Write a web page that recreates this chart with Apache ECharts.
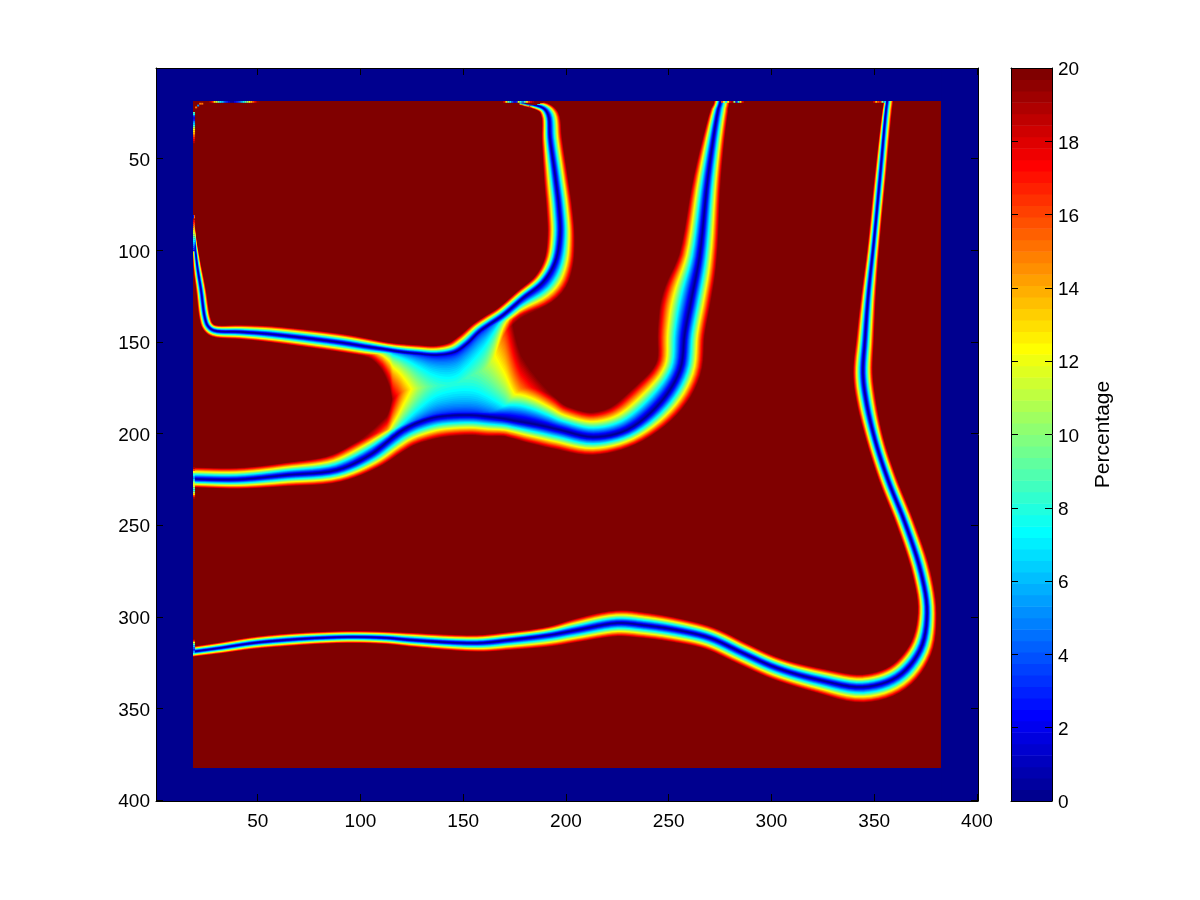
<!DOCTYPE html>
<html><head><meta charset="utf-8"><style>html,body{margin:0;background:#fff}#c{width:1200px;height:900px}</style>
<script src="https://cdn.jsdelivr.net/npm/echarts@6/dist/echarts.min.js"></script></head>
<body><div id="c"></div><script>
// channel centre lines, with the distance to the 20% edge on each side
// "Near" = slope close to the core where the channel opens into the wide junction
const northX=[18.5,19,20.5,22.4,24.3,25.8,28.7,41.4,56,88.6,104.6,111,114.4,115.8,120.7,127.5,137.2,146,151.8,158.2,163,169.4,179.1,188.8,194.7,197.1,196.6,194.7,192.2,191.3,188.8,177.6];
const northY=[80.7,91.6,108,121.6,136.9,141.3,143.7,144.5,145.7,150,152.8,153.8,154.4,154.7,155.5,156.3,157.1,155.5,151.1,144,140.2,135.3,126,117.3,106.4,91.6,76.9,58.9,38.7,26.1,22.3,19.1];
const northOuter=[.7,.7,2,2.4,2.7,3,3.5,4,4.4,5.4,5,12,22,30,42,80,150,170,150,150,100,10,10,12,9,7,6.5,6,6,5.5,3.5,1];
const northOuterNear=[.7,.7,2,2.4,2.7,3,3.5,4,4.4,5.4,5,4.6,4.6,4.6,5,5,5.5,6,7,9,8,7,9,12,9,7,6.5,6,6,5.5,3.5,1];
const northInner=[.7,.7,2,2.4,2.7,2.7,3,3.7,4.4,4.9,4.4,3.8,4,4,4.4,4.6,5,6,6,5,5,4.5,4.5,5,5.5,6.3,6.3,5.8,3.8,3.5,3,1];

const middleX=[17,39.9,64.2,88.6,104.6,112.9,115.8,120.7,127.5,137.2,153.3,163,170.3,175.2,181,189,197.1,213.2,229.7,245.8,255.5,257.9,261.3,265,269.1,274,275,275.9];
const middleY=[224.8,225.1,222.6,219.9,211.7,204.6,201.9,198,194.2,190.9,189.9,190.9,192,193.1,194.2,195.9,198,201.9,198,183.3,165.3,145.1,125.5,103.6,60,23.4,19.6,12.5];
const middleOuter=[4.4,4.9,6.4,6.5,8,9,9.5,10,11,11.8,11,11,9.5,9.5,10.5,11,11,10,8.5,11,10.5,9.7,9.7,8.8,6.3,4.9,4.5,4.5];
const middleInner=[6.5,6.4,6.4,9,10,14,22,42,80,150,180,128,80,45,30,18,12.5,13.6,15,16,11.5,13.6,15.5,9.7,7.3,3,3,3];
const middleInnerNear=[6.5,6.4,6.4,9,10,9,9,8,8,8,9,12,20,24,24,18,12.5,13.6,15,16,11.5,13.6,15.5,9.7,7.3,3,3,3];

const southX=[17,31.6,47.7,64.2,80.3,96.4,112.9,124.1,156.7,172.8,192.2,205.4,224.8,237.5,254,270.1,286.1,302.7,323.6,344.5,361.1,372.3,375.7,372.8,365,356.7,350.4,346,344.5,345.5,347,349.9,352.8,355.7,357];
const southY=[319.2,317,314.3,312.6,311.5,311,311.5,312.6,314.3,312.6,309.9,307.2,303.4,304.5,307.2,311.5,319.7,327.9,334.5,338.3,332.8,318.1,297.9,276.1,248.8,225.3,203.5,181.7,166.9,148.9,125.5,94.4,60,23.4,12.5];
const southOuter=[2.7,3,3.3,3.5,3.3,3.3,3.5,3.5,4.9,5.5,6.5,6.5,7.6,7.1,7,6.5,6.5,6.5,7,9,8,6,4.4,4.9,4.4,4.4,4.2,4.9,4.9,4.4,3.9,2.7,2.9,3,3];
const southInner=[2.7,3,3.3,3.5,3.3,3.3,3.3,4,4.4,4.4,4.4,6.5,7.1,7.1,6.5,6,5.5,5.5,6.5,7,7,6,4.4,4.4,4.4,4.4,4.2,4.9,4.9,4.4,3.4,2.7,2.9,1.5,1.5];

// single cells along the boundary of the field: [x, y, percent]
const topCells=[[27,19,19],[28,19,17],[29,19,13],[30,19,11],[31,19,9],[32,19,7],[33,19,6],[34,19,4],[35,19,3],[36,19,1.5],[37,19,.5],[38,19,.5],[39,19,2],[40,19,3],[41,19,4],[42,19,5.5],[43,19,7],[44,19,8.5],[45,19,10],[46,19,12],[47,19,14],[48,19,16],[49,19,18],[50,19,19.5],
[170,19,18],[171,19,13],[172,19,9],[173,19,7],[174,19,4],[175,19,2],[176,19,3],[177,19,11],[178,19,8],[179,19,5],[180,19,9],[181,19,13],[182,19,16],[183,19,18],[184,19,19],
[276,19,16],[277,19,12],[278,19,7],[279,19,12],[280,19,18],[281,19,19],[282,19,10],[283,19,3],[284,19,8],[285,19,13],[286,19,18],
[350,19,18],[351,19,14],[352,19,16],[353,19,17],[354,19,10],[355,19,6]];
const cornerCells=[[22,20,15],[23,20,15],[21,21,5],[20,22,15]];
const leftCells=[[19,25,9],[19,26,7],[19,27,3],[19,28,2],[19,29,3],[19,30,5],[19,31,6],[19,32,8],[19,33,10],[19,34,12],[19,35,13],[19,36,14],[19,37,15],[19,38,16],[19,39,17],[19,40,18],[19,41,19],
[19,83,19],[19,84,18],[19,85,17],[19,86,16],[19,87,15],[19,88,14],[19,89,13],[19,90,12],[19,91,11],[19,92,10],[19,93,9],[19,94,8],[19,95,7],[19,96,6],[19,97,5],[19,98,4],[19,99,3],[19,100,2],
[19,219,19],[19,220,16],[19,221,12],[19,222,9],[19,223,7],[19,224,5],[19,225,6],[19,226,9],[19,227,11],[19,228,12],[19,229,11],[19,230,9],[19,231,8],[19,232,10],[19,233,13],[19,234,16],[19,235,19],
[19,313,18],[19,314,12],[19,315,9],[19,316,6],[19,317,4],[19,318,3],[19,319,5],[19,320,8]];

const imageTicks=[50,100,150,200,250,300,350,400];
const barTicks=[0,2,4,6,8,10,12,14,16,18,20];
const fieldBox=[18.5,382.5];
const imageBox=[0.5,400.5];
const webRange=[98,113,178,192];

function jet(i){
  const x=(i+1)/64,c=v=>Math.round(255*Math.max(0,Math.min(1,v)));
  return `rgb(${c(Math.min(4*x-1.5,-4*x+4.5))},${c(Math.min(4*x-.5,-4*x+3.5))},${c(Math.min(4*x+.5,-4*x+2.5))})`;
}
// drawing helper: a smooth (centripetal spline) outline through the read points, like a line series' smooth option
function spline(X,Y,lists){
  const n=X.length,out={X:[],Y:[],L:lists.map(()=>[])},S=6;
  const P=i=>{const j=Math.max(0,Math.min(n-1,i));return[X[j],Y[j]];};
  for(let i=0;i<n-1;i++){
    const p0=i===0?[2*X[0]-X[1],2*Y[0]-Y[1]]:P(i-1),p1=P(i),p2=P(i+1),p3=i+2>=n?[2*X[n-1]-X[n-2],2*Y[n-1]-Y[n-2]]:P(i+2);
    const d=(a,b)=>Math.max(1e-3,Math.sqrt(Math.hypot(a[0]-b[0],a[1]-b[1])));
    const t1=d(p0,p1),t2=t1+d(p1,p2),t3=t2+d(p2,p3);
    for(let s=0;s<S;s++){
      const u=s/S,t=t1+u*(t2-t1);
      const mix=(a,b,ta,tb)=>[(tb-t)/(tb-ta)*a[0]+(t-ta)/(tb-ta)*b[0],(tb-t)/(tb-ta)*a[1]+(t-ta)/(tb-ta)*b[1]];
      const a1=mix(p0,p1,0,t1),a2=mix(p1,p2,t1,t2),a3=mix(p2,p3,t2,t3),b1=mix(a1,a2,0,t2),b2=mix(a2,a3,t1,t3),c=mix(b1,b2,t1,t2);
      out.X.push(c[0]);out.Y.push(c[1]);
      lists.forEach((l,k)=>out.L[k].push(l[i]+u*(l[i+1]-l[i])));
    }
  }
  out.X.push(X[n-1]);out.Y.push(Y[n-1]);lists.forEach((l,k)=>out.L[k].push(l[n-1]));
  out.L=out.L.map(l=>l.map((v,i)=>{let s=0,c=0;for(let j=Math.max(0,i-3);j<=Math.min(l.length-1,i+3);j++){s+=l[j];c++;}return s/c;}));
  return out;
}
const dn=spline(northX,northY,[northOuter,northOuterNear,northInner,northInner]);
const dm=spline(middleX,middleY,[middleOuter,middleOuter,middleInner,middleInnerNear]);
const ds=spline(southX,southY,[southOuter,southOuter,southInner,southInner]);
function coreY(c,x){
  const X=c.X,Y=c.Y;
  for(let i=0;i<X.length-1;i++){
    if(X[i]<=x&&X[i+1]>=x&&X[i+1]>X[i]){const t=(x-X[i])/(X[i+1]-X[i]);return Y[i]+t*(Y[i+1]-Y[i]);}
  }
  return null;
}
const channels=[{c:dn,webSide:0,other:dm},{c:dm,webSide:1,other:dn},{c:ds}];
const reach=(w,near,f)=>Math.max(near*f,w*Math.pow(f,2.5));
const clamp01=v=>Math.max(0,Math.min(1,v));
function outline(ch,f,api){
  const {X,Y,L}=ch.c,n=X.length,a=[],b=[];
  for(let i=0;i<n;i++){
    const p=Math.max(0,i-1),q=Math.min(n-1,i+1);
    const tx=X[q]-X[p],ty=Y[q]-Y[p],l=Math.hypot(tx,ty)||1,nx=-ty/l,ny=tx/l;
    const A=reach(L[0][i],L[1][i],f),B=reach(L[2][i],L[3][i],f);
    let pa=[X[i]+nx*A,Y[i]+ny*A],pb=[X[i]-nx*B,Y[i]-ny*B];
    const x=X[i];
    const t=ch.other?Math.min(clamp01((x-webRange[0])/(webRange[1]-webRange[0])),clamp01((webRange[3]-x)/(webRange[3]-webRange[2]))):0;
    if(t>0){
      const o=coreY(ch.other,x);
      const gap=o===null?1e9:Math.abs(o-Y[i])-.5;
      const dx=nx*(1-t),dy=ny*(1-t)+t,dl=Math.hypot(dx,dy)||1;
      if(ch.webSide===0){const r=Math.min(A,gap);pa=[x+dx/dl*r,Y[i]+dy/dl*r];}
      else{const r=Math.min(B,gap);pb=[x-dx/dl*r,Y[i]-dy/dl*r];}
    }
    a.push(api.coord(pa));b.push(api.coord(pb));
  }
  return a.concat(b.reverse());
}
const levels=[];for(let k=63;k>=1;k--)levels.push([k]);
const rectSeries=(data,color)=>({type:'custom',coordinateSystem:'cartesian2d',xAxisIndex:0,yAxisIndex:0,silent:true,animation:false,
  data,renderItem(p,api){
    const a=api.coord([api.value(0),api.value(2)]),b=api.coord([api.value(1),api.value(3)]);
    return{type:'rect',shape:{x:Math.min(a[0],b[0]),y:Math.min(a[1],b[1]),width:Math.abs(a[0]-b[0]),height:Math.abs(a[1]-b[1])},style:{fill:color}};
  }});
const cellSeries=data=>({type:'custom',coordinateSystem:'cartesian2d',xAxisIndex:0,yAxisIndex:0,silent:true,animation:false,data,
  renderItem(p,api){
    const x=api.value(0),y=api.value(1),a=api.coord([x-.5,y-.5]),b=api.coord([x+.5,y+.5]);
    return{type:'rect',shape:{x:a[0],y:a[1],width:b[0]-a[0],height:b[1]-a[1]},style:{fill:jet(Math.min(63,Math.floor(api.value(2)/20*64)))}};
  }});
const [i0,i1]=imageBox,[f0,f1]=fieldBox;
const barCells=[];for(let i=0;i<64;i++)barCells.push([i]);
const font={fontFamily:'Liberation Sans, Arial, sans-serif',fontSize:19,color:'#000'};
const sideLabel={margin:6,formatter:v=>`{a|${v}}`,rich:{a:{...font,padding:[4,0,0,0]}}};
const line={show:true,onZero:false,lineStyle:{color:'#000',width:1}};
const chart=echarts.init(document.getElementById('c'),null,{renderer:'canvas'});
const imgX=(pos,labels)=>({type:'value',gridIndex:0,position:pos,min:i0,max:i1,z:10,axisLine:line,splitLine:{show:false},
  axisTick:{show:true,inside:true,length:7,customValues:imageTicks,lineStyle:{color:'#000'}},
  axisLabel:labels?{...font,margin:11,customValues:imageTicks,formatter:v=>String(v)}:{show:false}});
const imgY=(pos,labels)=>({type:'value',gridIndex:0,position:pos,min:i0,max:i1,inverse:true,z:10,axisLine:line,splitLine:{show:false},
  axisTick:{show:true,inside:true,length:7,customValues:imageTicks,lineStyle:{color:'#000'}},
  axisLabel:labels?{...sideLabel,customValues:imageTicks}:{show:false}});
const barY=(pos,labels)=>({type:'value',gridIndex:1,position:pos,min:0,max:20,z:10,axisLine:line,splitLine:{show:false},
  axisTick:{show:true,inside:true,length:7,customValues:barTicks,lineStyle:{color:'#000'}},
  axisLabel:labels?{...sideLabel,customValues:barTicks}:{show:false},
  ...(labels?{name:'Percentage',nameLocation:'middle',nameRotate:90,nameGap:41,nameTextStyle:{...font,fontSize:21}}:{})});
const barX=pos=>({type:'value',gridIndex:1,position:pos,min:0,max:1,z:10,axisLine:line,axisTick:{show:false},axisLabel:{show:false},splitLine:{show:false}});
chart.setOption({
  animation:false,backgroundColor:'#fff',
  grid:[{left:156,top:68,width:822,height:733},{left:1011,top:68,width:41,height:733}],
  xAxis:[imgX('bottom',true),imgX('top',false),barX('bottom'),barX('top')],
  yAxis:[imgY('left',true),imgY('right',false),barY('right',true),barY('left',false)],
  series:[
    rectSeries([[i0,i1,i0,i1]],jet(0)),
    rectSeries([[f0,f1,f0,f1]],jet(63)),
    {type:'custom',coordinateSystem:'cartesian2d',xAxisIndex:0,yAxisIndex:0,silent:true,animation:false,progressive:0,data:levels,
     renderItem(p,api){
       const k=api.value(0),f=k/64;
       return{type:'group',children:channels.map(ch=>({type:'polygon',shape:{points:outline(ch,f,api)},style:{fill:jet(k-1)}}))};
     }},
    rectSeries([[i0,i1,i0,f0],[i0,i1,f1,i1],[i0,f0,i0,i1],[f1,i1,i0,i1]],jet(0)),
    cellSeries(topCells),cellSeries(cornerCells),cellSeries(leftCells),
    {type:'custom',coordinateSystem:'cartesian2d',xAxisIndex:2,yAxisIndex:2,silent:true,animation:false,data:barCells,
     renderItem(p,api){
       const i=api.value(0),a=api.coord([0,i*20/64]),b=api.coord([1,(i+1)*20/64]);
       return{type:'rect',shape:{x:a[0],y:b[1],width:b[0]-a[0],height:a[1]-b[1]+.5},style:{fill:jet(i)}};
     }}
  ]
});
</script></body></html>
